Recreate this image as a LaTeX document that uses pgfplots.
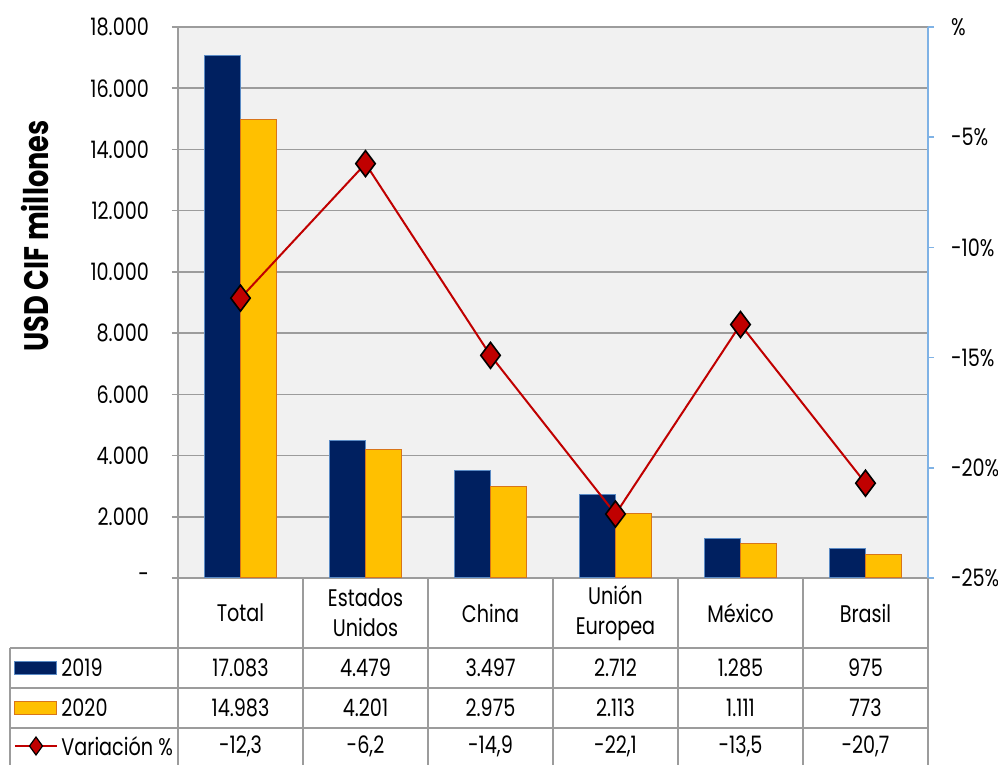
\documentclass[border=0pt]{standalone}
\usepackage{pgfplots}
\pgfplotsset{compat=1.18}
\usepackage{fontspec}
\setmainfont{Poppins}[FakeStretch=0.8]
\definecolor{navy}{HTML}{002060}
\definecolor{navyedge}{HTML}{5B8BC5}
\definecolor{gold}{HTML}{FFC000}
\definecolor{goldedge}{HTML}{D8751A}
\definecolor{linered}{HTML}{C00000}
\definecolor{gridc}{HTML}{9C9C9C}
\definecolor{bg}{HTML}{F1F1F1}
\definecolor{rightc}{HTML}{7FB2E5}
\begin{document}
\begin{tikzpicture}[font=\fontsize{12}{14}\selectfont]
\begin{axis}[at={(0,0)},anchor=south west, scale only axis,
  width=375pt, height=275.5pt,
  xmin=-0.5, xmax=5.5, ymin=0, ymax=18000,
  scaled y ticks=false,
  axis background/.style={fill=bg},
  axis x line*=bottom, axis y line*=left,
  axis line style={gridc, line width=0.8pt},
  xtick=\empty,
  ytick={0,2000,...,18000},
  yticklabels={-,2.000,4.000,6.000,8.000,10.000,12.000,14.000,16.000,18.000},
  ymajorgrids, grid style={gridc, line width=0.8pt},
  tick align=outside, major tick length=3pt,
  tick style={gridc, line width=0.8pt},
  yticklabel style={xshift=-8pt},
  clip=false]
\addplot[ybar, bar width=0.288, bar shift=-0.144, fill=navy, draw=navyedge, line width=0.5pt]
  coordinates {(0,17083)(1,4479)(2,3497)(3,2712)(4,1285)(5,975)};
\addplot[ybar, bar width=0.288, bar shift=0.144, fill=gold, draw=goldedge, line width=0.5pt]
  coordinates {(0,14983)(1,4201)(2,2975)(3,2113)(4,1111)(5,773)};
\end{axis}
\begin{axis}[at={(0,0)},anchor=south west, scale only axis,
  width=375pt, height=275.5pt,
  xmin=-0.5, xmax=5.5, ymin=-25, ymax=0,
  axis x line=none, axis y line*=right,
  y axis line style={rightc, line width=0.8pt},
  ytick={-25,-20,-15,-10,-5,0},
  yticklabels={-25\%,-20\%,-15\%,-10\%,-5\%,\%},
  tick align=outside, major tick length=3pt,
  tick style={rightc, line width=0.8pt},
  yticklabel style={anchor=west, xshift=5pt},
  clip=false]
\addplot[linered, line width=1pt, mark=diamond*, mark size=6.5pt,
  mark options={fill=linered, draw=black, line width=0.8pt}]
  coordinates {(0,-12.3)(1,-6.2)(2,-14.9)(3,-22.1)(4,-13.5)(5,-20.7)};
\end{axis}
\begin{scope}[x=0.5pt,y=0.5pt]
  \node[rotate=90, font=\fontsize{17}{18}\selectfont\bfseries] at (-143,342) {USD CIF millones};
  % table grid
  \draw[gridc, line width=0.8pt]
    \foreach \i in {0,125,...,750} {(\i,0) -- (\i,-200)}
    (-168,-70) -- (750,-70)
    (-168,-110) -- (750,-110)
    (-168,-150) -- (750,-150)
    (-168,-70) -- (-168,-200);
  % header
  \foreach \t [count=\k from 0] in {Total,{Estados\\Unidos},China,{Unión\\Europea},México,Brasil}
    \node[align=center, inner sep=0pt, font=\fontsize{12}{15}\selectfont] at (62.5+125*\k,-35) {\t};
  \foreach \t [count=\k from 0] in {17.083,4.479,3.497,2.712,1.285,975}
    \node[inner sep=0pt] at (62.5+125*\k,-90) {\t};
  \foreach \t [count=\k from 0] in {14.983,4.201,2.975,2.113,1.111,773}
    \node[inner sep=0pt] at (62.5+125*\k,-130) {\t};
  \foreach \t [count=\k from 0] in {{-12,3},{-6,2},{-14,9},{-22,1},{-13,5},{-20,7}}
    \node[inner sep=0pt] at (62.5+125*\k,-168) {\t};
  % legend keys
  \fill[navy, draw=navyedge, line width=0.5pt] (-163,-97) rectangle (-121,-84);
  \node[anchor=west, inner sep=0pt] at (-117,-90) {2019};
  \fill[gold, draw=goldedge, line width=0.5pt] (-163,-137) rectangle (-121,-124);
  \node[anchor=west, inner sep=0pt] at (-117,-130) {2020};
  \draw[linered, line width=1pt] (-163,-168) -- (-121,-168);
  \fill[linered, draw=black, line width=0.6pt] (-142,-159) -- (-135.5,-168) -- (-142,-177) -- (-148.5,-168) -- cycle;
  \node[anchor=west, inner sep=0pt] at (-117,-168) {Variación \%};
  \pgfresetboundingbox
  \path[use as bounding box] (-178,-187) rectangle (820,578);
\end{scope}
\end{tikzpicture}
\end{document}
